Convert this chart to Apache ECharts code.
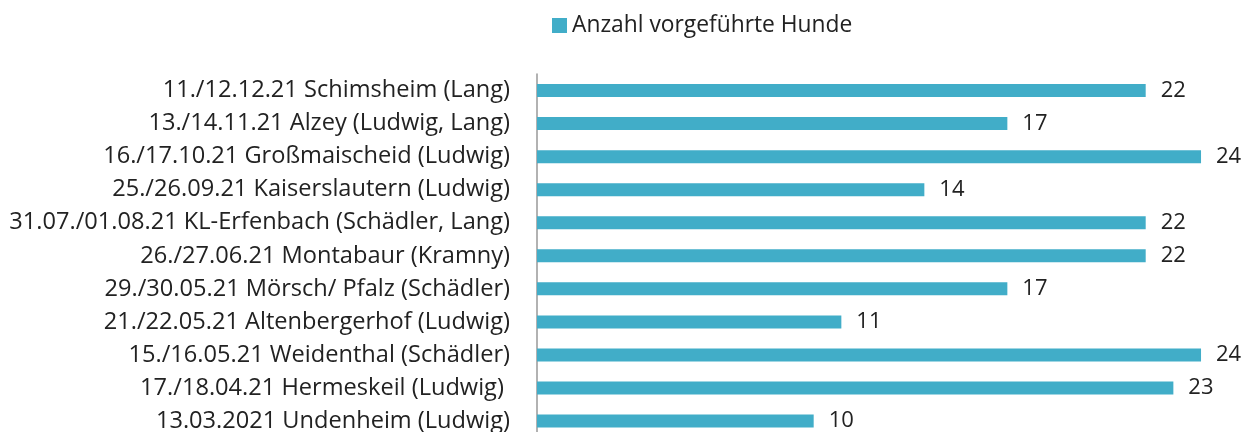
<!DOCTYPE html>
<html>
<head>
<meta charset="utf-8">
<script src="https://cdn.jsdelivr.net/npm/echarts@6/dist/echarts.min.js"></script>
<style>
  html, body { margin: 0; padding: 0; background: #fff; }
  #chart { width: 1247px; height: 432px; }
</style>
</head>
<body>
<div id="chart"></div>
<script>
// events, top to bottom as shown
const categories = [
  "11./12.12.21 Schimsheim (Lang)",
  "13./14.11.21 Alzey (Ludwig, Lang)",
  "16./17.10.21 Großmaischeid (Ludwig)",
  "25./26.09.21 Kaiserslautern (Ludwig)",
  "31.07./01.08.21 KL-Erfenbach (Schädler, Lang)",
  "26./27.06.21 Montabaur (Kramny)",
  "29./30.05.21 Mörsch/ Pfalz (Schädler)",
  "21./22.05.21 Altenbergerhof (Ludwig)",
  "15./16.05.21 Weidenthal (Schädler)",
  "17./18.04.21 Hermeskeil (Ludwig) ",
  "13.03.2021 Undenheim (Ludwig)"
];
const hunde = [22, 17, 24, 14, 22, 22, 17, 11, 24, 23, 10];
const seriesName = "Anzahl vorgeführte Hunde";

const font = "'Open Sans', sans-serif";
const chart = echarts.init(document.getElementById("chart"));

chart.setOption({
  animation: false,
  legend: {
    data: [seriesName],
    top: 9,
    left: 547,
    itemWidth: 15,
    itemHeight: 15,
    itemGap: 5,
    icon: "rect",
    textStyle: { fontFamily: font, fontSize: 22.8, color: "#222" }
  },
  grid: {
    left: 537,
    top: 74,
    width: 691.7,
    height: 363.6,
    outerBoundsMode: "none",
    containLabel: false
  },
  xAxis: {
    type: "value",
    min: 0,
    max: 25,
    show: false
  },
  yAxis: {
    type: "category",
    data: categories,
    inverse: true,
    axisTick: { show: false },
    axisLine: { lineStyle: { color: "#999", width: 1.5 } },
    axisLabel: {
      margin: 27,
      fontFamily: font,
      fontSize: 23.6,
      color: "#222"
    }
  },
  series: [{
    name: seriesName,
    type: "bar",
    data: hunde,
    barWidth: 13,
    itemStyle: { color: "#41adc8" },
    label: {
      show: true,
      position: "right",
      distance: 15,
      fontFamily: font,
      fontSize: 22,
      color: "#222"
    }
  }]
});
</script>
</body>
</html>
